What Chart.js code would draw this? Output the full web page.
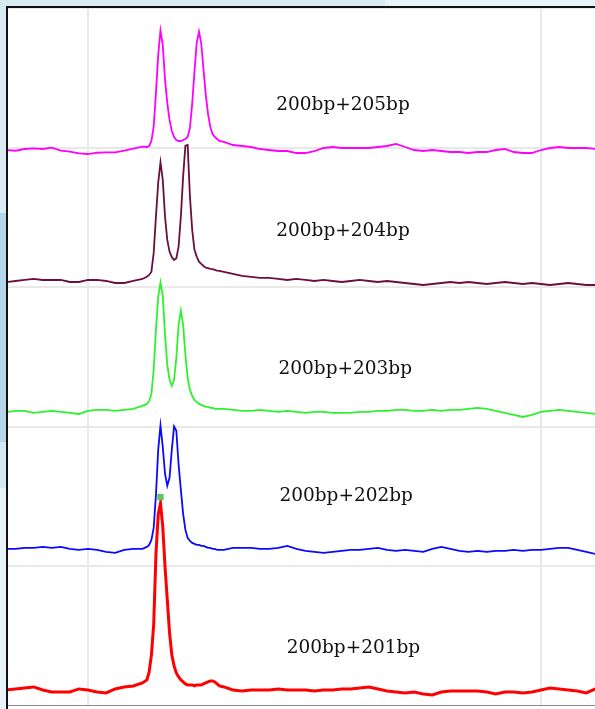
<!DOCTYPE html>
<html>
<head>
<meta charset="utf-8">
<script src="https://cdn.jsdelivr.net/npm/chart.js@4.4.1/dist/chart.umd.min.js"></script>
<style>
  html, body { margin: 0; padding: 0; }
  body { width: 595px; height: 709px; position: relative; overflow: hidden; background: #e8f4f9; }
  .bg { position: absolute; }
  #frame { position: absolute; left: 6px; top: 6px; width: 587px; height: 701px;
           border-left: 2px solid #111; border-top: 2px solid #111; background: #fff; }
  #plot { position: absolute; left: 0; top: 0; }
</style>
</head>
<body>
<div class="bg" style="left:0;top:0;width:385px;height:6px;background:#d7ebf1"></div>
<div class="bg" style="left:385px;top:0;width:210px;height:6px;background:#e7f3f8"></div>
<div class="bg" style="left:0;top:0;width:6px;height:213px;background:#d7ebf1"></div>
<div class="bg" style="left:0;top:213px;width:6px;height:229px;background:#b3d7e8"></div>
<div class="bg" style="left:0;top:442px;width:6px;height:46px;background:#d3e8f1"></div>
<div id="frame"><canvas id="plot" width="587" height="698"></canvas></div>
<script>
// Migration time (min) of each scan point, shared by all lanes
const scanTimes = [
  18.2, 18.4, 18.6, 18.8, 19.0, 19.2, 19.4, 19.6, 19.8, 20.0, 20.2, 20.4, 20.6, 20.8, 21.0, 21.2,
  21.3, 21.35, 21.4, 21.45, 21.5, 21.55, 21.6, 21.65, 21.7, 21.75, 21.8, 21.85, 21.9, 21.95,
  22.0, 22.05, 22.1, 22.15, 22.2, 22.25, 22.3, 22.35, 22.4, 22.45, 22.5, 22.55, 22.6, 22.65,
  22.7, 22.75, 22.8, 22.85, 22.9,
  23.0, 23.2, 23.4, 23.6, 23.8, 24.0, 24.2, 24.4, 24.6, 24.8, 25.0, 25.2, 25.4, 25.6, 25.8,
  26.0, 26.2, 26.4, 26.6, 26.8, 27.0, 27.2, 27.4, 27.6, 27.8, 28.0, 28.2, 28.4, 28.6, 28.8,
  29.0, 29.2, 29.4, 29.6, 29.8, 30.0, 30.2, 30.4, 30.6, 30.8, 31.0, 31.2
];

// Lane names (fragment pairs)
const laneNames = ['200bp+205bp', '200bp+204bp', '200bp+203bp', '200bp+202bp', '200bp+201bp'];

// Vertical offset of each lane's baseline (RFU)
const laneOffsets = [3896, 2982, 2075, 1112, 128];

// Fluorescence above baseline (RFU) for each lane
const signal205 = [
  0, -5, 7, 12, 7, 16, -5, -12, -23, -28, -19, -16, -16, -5, 9, 23,
  21, 28, 63, 161, 399, 665, 833, 735, 490, 329, 210, 133, 91, 70, 63, 63, 70, 77, 91, 154,
  322, 546, 749, 826, 742, 560, 385, 252, 161, 112, 91, 77, 63,
  56, 35, 28, 21, 7, 0, -7, -7, -21, -21, -7, 14, 21, 14, 14, 14, 14, 21, 28, 42,
  21, 0, -7, 0, -7, -14, -14, -21, -14, -14, 0, 7, -14, -21, -21, 0, 14, 21, 14, 14, 14, 7
];
const signal204 = [
  -7, 0, 7, 14, 7, 7, 7, -7, -7, 7, 7, 0, -14, -14, 0, 14,
  30, 42, 65, 196, 450, 686, 828, 707, 450, 287, 205, 166, 147, 159, 240, 450, 730, 945, 950, 590,
  357, 217, 170, 135, 119, 105, 93, 89, 84, 82, 77, 72, 70,
  63, 49, 35, 28, 21, 21, 14, 7, 14, 7, 0, 7, 0, -7, 0, 7, 0, -7, 0, -7,
  -14, -21, -28, -21, -14, -7, -14, -7, -14, -21, -14, -7, -14, -21, -14, -21, -28, -21, -14, -21, -28, -28
];
const signal203 = [
  -7, 0, 0, -14, -7, 0, -7, -14, -21, 0, 7, 7, 0, 7, 14, 35,
  49, 70, 119, 287, 567, 798, 896, 805, 532, 322, 217, 175, 217, 371, 602, 700, 602, 392, 231, 147,
  105, 77, 63, 49, 42, 35, 28, 28, 21, 21, 14, 14, 14,
  14, 7, 0, 0, 7, 0, -7, 0, -7, -14, -7, -7, -14, -14, -14, -7, -7, 0, 0, 7,
  7, 0, 0, 7, 0, 7, 7, 14, 21, 14, 0, -14, -28, -42, -28, -7, 0, 7, 0, -7, -14, -21
];
const signal202 = [
  0, 0, 7, 7, 14, 7, 14, 0, -7, 0, -7, -21, -28, -7, 0, 0,
  14, 28, 63, 147, 378, 693, 861, 714, 525, 441, 497, 693, 855, 825, 588, 413, 245, 133, 77, 56,
  42, 35, 28, 28, 21, 21, 14, 7, 7, 0, 0, -7, -7,
  -7, 7, 7, 7, 0, 0, 7, 21, 0, -14, -21, -28, -21, -14, -7, -7, 0, 7, -7, -14,
  -7, -14, -21, 0, 14, 0, -14, -21, -14, -21, -14, -14, -7, -14, -7, -7, 0, 7, 7, -7, -21, -35
];
const signal201 = [
  0, 7, 14, 21, 0, -14, -14, -14, 7, 0, -14, -21, 7, 21, 28, 49,
  70, 126, 245, 455, 945, 1225, 1302, 1141, 861, 630, 399, 245, 168, 119, 91, 70, 56, 42, 35, 35,
  35, 28, 35, 35, 35, 42, 49, 56, 63, 63, 56, 42, 28,
  21, 0, -7, 0, 0, 0, 7, 0, 0, 0, -7, 0, 0, 7, 7, 14, 21, 7, -7, -14,
  -21, -14, -28, -35, -14, -7, -7, -7, -7, -14, -28, -14, -14, -21, -14, 0, 14, 7, 0, -7, -21, 7
];
const laneSignals = [signal205, signal204, signal203, signal202, signal201];

// Called peak on the 201bp lane (time, RFU)
const peakCallTimes = [21.6];
const peakCallLevels = [1474];

const laneColors = ['#ff00ff', '#6b0f3d', '#2ef22e', '#0a0aff', '#ff0000'];
const laneWidths = [1.8, 1.8, 1.8, 1.8, 3];

const datasets = [{
  type: 'scatter',
  data: peakCallTimes.map((t, i) => ({ x: t, y: peakCallLevels[i] })),
  pointStyle: 'rect',
  pointRadius: 4.5,
  backgroundColor: '#5cc85c',
  borderWidth: 0,
  order: 0
}];
laneNames.forEach((name, i) => {
  datasets.push({
    label: name,
    data: scanTimes.map((t, j) => ({ x: t, y: laneOffsets[i] + laneSignals[i][j] })),
    borderColor: laneColors[i],
    borderWidth: laneWidths[i],
    pointRadius: 0,
    tension: 0,
    fill: false,
    order: laneNames.length - i
  });
});

// Lane captions drawn in data coordinates
const laneLabelPlugin = {
  id: 'laneLabels',
  afterDatasetsDraw(chart, args, opts) {
    const { ctx, scales: { x, y } } = chart;
    ctx.save();
    ctx.font = opts.font;
    ctx.fillStyle = opts.color;
    ctx.textAlign = 'center';
    ctx.textBaseline = 'middle';
    opts.items.forEach(it => {
      ctx.fillText(it.text, x.getPixelForValue(it.x), y.getPixelForValue(it.y));
    });
    ctx.restore();
  }
};

const labelAnchors = [
  { x: 25.63, y: 4210 },
  { x: 25.63, y: 3331 },
  { x: 25.68, y: 2368 },
  { x: 25.70, y: 1481 },
  { x: 25.86, y: 421 }
];

new Chart(document.getElementById('plot'), {
  type: 'line',
  data: { datasets },
  options: {
    responsive: false,
    devicePixelRatio: 1,
    animation: false,
    layout: { padding: 0, autoPadding: false },
    plugins: {
      legend: { display: false },
      tooltip: { enabled: false },
      laneLabels: {
        font: '18.5px "DejaVu Serif"',
        color: '#111111',
        items: laneNames.map((n, i) => ({ text: n, x: labelAnchors[i].x, y: labelAnchors[i].y }))
      }
    },
    scales: {
      x: {
        type: 'linear',
        min: 18.234,
        max: 31.192,
        ticks: { display: false, stepSize: 10, includeBounds: false },
        grid: { color: '#e9e9e9', lineWidth: 2, drawTicks: false },
        border: { display: true, color: '#8a8a8a', width: 2 },
        afterFit(s) { s.height = 0; }
      },
      y: {
        type: 'linear',
        min: 16,
        max: 4887,
        ticks: { display: false, stepSize: 1000, includeBounds: false },
        grid: { color: '#e9e9e9', lineWidth: 2, drawTicks: false },
        border: { display: false },
        afterFit(s) { s.width = 0; }
      }
    }
  },
  plugins: [laneLabelPlugin]
});
</script>
</body>
</html>
